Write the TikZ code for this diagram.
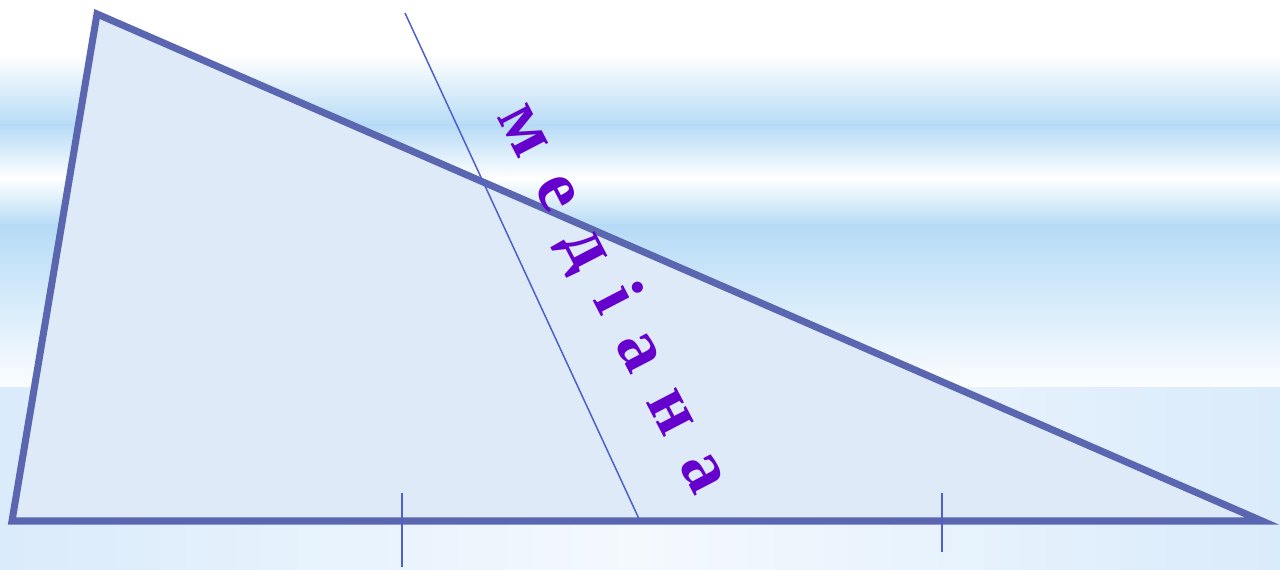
\documentclass[tikz,border=0pt]{standalone}
\usepackage{fontspec}
\setmainfont{Liberation Serif}
\usepackage{tikz}
\usetikzlibrary{calc}
\definecolor{sidecol}{RGB}{90,103,176}
\definecolor{medcol}{RGB}{78,96,204}
\definecolor{wordcol}{RGB}{102,0,204}
\definecolor{trifill}{RGB}{222,234,248}
\definecolor{bandblue}{RGB}{182,219,246}
\definecolor{lowblue}{RGB}{218,235,251}
\newcommand{\wordfont}{\bfseries\fontsize{42}{42}\selectfont\spaceskip=0.39em plus 0pt minus 0pt\relax}

\begin{document}
\begin{tikzpicture}[x=0.2mm, y=-0.2mm,
  side/.style={draw=sidecol, line width=4pt, line join=miter, fill=trifill},
  median/.style={draw=medcol, line width=0.85pt},
  tickmark/.style={draw=medcol, line width=1.1pt},
  word/.style={text=wordcol, inner sep=0pt, rotate=-62.5, font=\wordfont}]

\useasboundingbox (0,0) rectangle (1280,570);

% Фон
\fill[white] (0,0) rectangle (1280,56);
\shade[top color=white, bottom color=bandblue] (0,55) rectangle (1280,126);
\shade[top color=bandblue, bottom color=white] (0,125) rectangle (1280,179);
\shade[top color=white, bottom color=bandblue] (0,178) rectangle (1280,226);
\shade[top color=bandblue, bottom color=white!96!bandblue] (0,225) rectangle (1280,389);
\shade[left color=lowblue, right color=lowblue, middle color=white!70!lowblue] (0,388) rectangle (1280,570);

% Трикутник з медіаною
\coordinate (A) at (97,14);
\coordinate (B) at (12,521);
\coordinate (C) at (1262,521);
\coordinate (T) at (405,13);
\coordinate (M) at (640,521);

\draw[side] (A) -- (B) -- (C) -- cycle;
\draw[median] (T) -- (M);

\coordinate (t1a) at (402,493);
\coordinate (t1b) at (402,567);
\coordinate (t2a) at (942,493);
\coordinate (t2b) at (942,552);
\draw[tickmark] (t1a) -- (t1b);
\draw[tickmark] (t2a) -- (t2b);

\node[word] (txt) at (613,298) {м е д і а н а};

\end{tikzpicture}
\end{document}
